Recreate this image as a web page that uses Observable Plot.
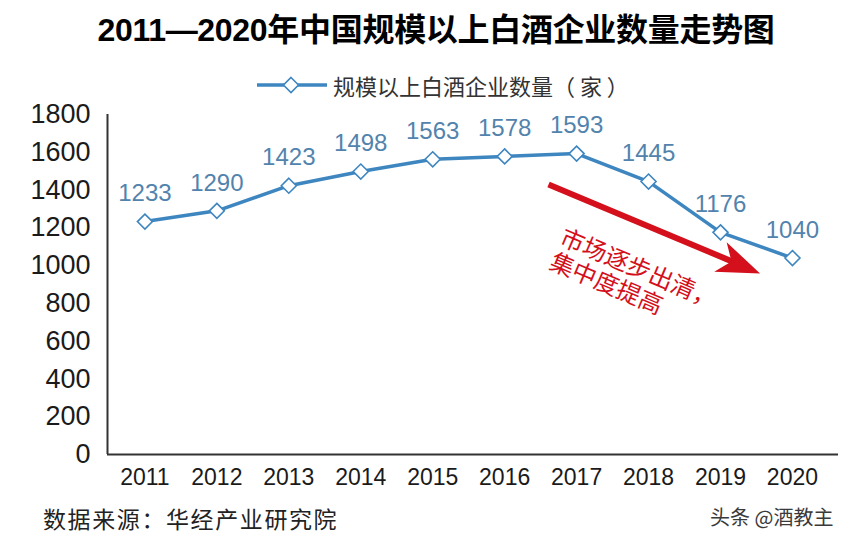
<!DOCTYPE html>
<html><head><meta charset="utf-8">
<script src="https://cdn.jsdelivr.net/npm/d3@7"></script>
<script src="https://cdn.jsdelivr.net/npm/@observablehq/plot@0.6"></script>
<style>
body{margin:0;background:#fff;}
#wrap{position:relative;width:859px;height:539px;overflow:hidden;font-family:"Liberation Sans","Noto Sans CJK SC",sans-serif;background:#fff;}
#chart{position:absolute;left:0;top:0;}
.title{position:absolute;left:0;width:872px;top:12px;text-align:center;font-weight:bold;font-size:32px;line-height:36px;color:#000;letter-spacing:-0.3px;}
.legend{position:absolute;left:255px;top:72px;height:26px;display:flex;align-items:center;}
.legend span{font-family:"Noto Sans CJK SC",sans-serif;font-size:22px;line-height:26px;color:#333;margin-left:3px;}
.source{position:absolute;left:43px;top:504px;font-family:"Noto Sans CJK SC",sans-serif;font-size:23px;line-height:28px;color:#222;letter-spacing:1.6px;}
.mark{position:absolute;left:710px;top:503px;font-family:"Noto Sans CJK SC",sans-serif;font-size:20px;line-height:28px;color:#3a3a3a;}
</style></head>
<body>
<div id="wrap">
  <div id="chart"></div>
  <div class="title">2011—2020年中国规模以上白酒企业数量走势图</div>
  <div class="legend"><svg width="75" height="20" viewBox="0 0 75 20"><line x1="2" y1="10" x2="72" y2="10" stroke="#3e86c0" stroke-width="3.5"/><path d="M36 2.5 L43.5 10 L36 17.5 L28.5 10 Z" fill="#fff" stroke="#3e86c0" stroke-width="1.6"/></svg><span>规模以上白酒企业数量（ 家 ）</span></div>
  <div class="source">数据来源：华经产业研究院</div>
  <div class="mark">头条 @酒教主</div>
</div>
<script>
const years = [2011, 2012, 2013, 2014, 2015, 2016, 2017, 2018, 2019, 2020];
const counts = [1233, 1290, 1423, 1498, 1563, 1578, 1593, 1445, 1176, 1040];
const yTicks = [0, 200, 400, 600, 800, 1000, 1200, 1400, 1600, 1800];
const noteLines = ["市场逐步出清，", "集中度提高"];
const arrowStart = [2016.61, 1429];
const arrowShaftEnd = [2019.30, 1000];
const arrowTip = [2019.55, 958];
const notePos = [2016.72, 1093];

const lineColor = "#3e86c0";
const labelColor = "#5283ad";
const red = "#d3101c";

const headAngle = 22.8 * Math.PI / 180;
const arrowHead = {
  draw(ctx, size) {
    const k = Math.sqrt(size / Math.PI) / 10;
    const pts = [[0, 0], [-43, -16], [-31, 0], [-43, 16]];
    const c = Math.cos(headAngle), s = Math.sin(headAngle);
    pts.forEach(([px, py], i) => {
      const X = (px * c - py * s) * k, Y = (px * s + py * c) * k;
      if (i) ctx.lineTo(X, Y); else ctx.moveTo(X, Y);
    });
    ctx.closePath();
  }
};
const diamond = {
  draw(ctx, size) {
    const r = Math.sqrt(size / Math.PI);
    ctx.moveTo(0, -r); ctx.lineTo(r, 0); ctx.lineTo(0, r); ctx.lineTo(-r, 0); ctx.closePath();
  }
};

const xMin = 2010.48, xMax = 2020.64;

const plot = Plot.plot({
  width: 859,
  height: 539,
  marginLeft: 107,
  marginRight: 21,
  marginTop: 114,
  marginBottom: 85,
  style: {fontFamily: '"Liberation Sans","Noto Sans CJK SC",sans-serif', color: "#1a1a1a", background: "transparent"},
  x: {domain: [xMin, xMax]},
  y: {domain: [0, 1800]},
  marks: [
    Plot.axisY({ticks: yTicks, tickFormat: d => String(d), tickSize: 0, tickPadding: 17, fontSize: 27, label: null}),
    Plot.axisX({ticks: years, tickFormat: d => String(d), tickSize: 0, tickPadding: 14, fontSize: 23, label: null}),
    Plot.ruleX([xMin], {y1: 0, y2: 1800, stroke: "#333", strokeWidth: 2}),
    Plot.ruleY([0], {x1: xMin, x2: xMax, stroke: "#333", strokeWidth: 2}),
    Plot.line(counts, {x: years, y: counts, stroke: lineColor, strokeWidth: 3.5}),
    Plot.dot(counts, {x: years, y: counts, symbol: diamond, r: 7.5, fill: "#fff", stroke: lineColor, strokeWidth: 1.6}),
    Plot.text(counts, {x: years, y: counts, text: d => String(d), dy: -28, fontSize: 24, fill: labelColor}),
    Plot.link([[...arrowStart, ...arrowShaftEnd]], {x1: d => d[0], y1: d => d[1], x2: d => d[2], y2: d => d[3], stroke: red, strokeWidth: 6}),
    Plot.dot([arrowTip], {x: d => d[0], y: d => d[1], symbol: arrowHead, r: 10, fill: red, stroke: "none"}),
    Plot.text([noteLines.join("\n")], {x: () => notePos[0], y: () => notePos[1], text: d => d, rotate: 23, textAnchor: "start", lineAnchor: "middle", lineHeight: 1.1, fontSize: 24, fill: red, fontFamily: '"Noto Sans CJK SC",sans-serif'})
  ]
});
document.getElementById("chart").appendChild(plot);
</script>
</body></html>
